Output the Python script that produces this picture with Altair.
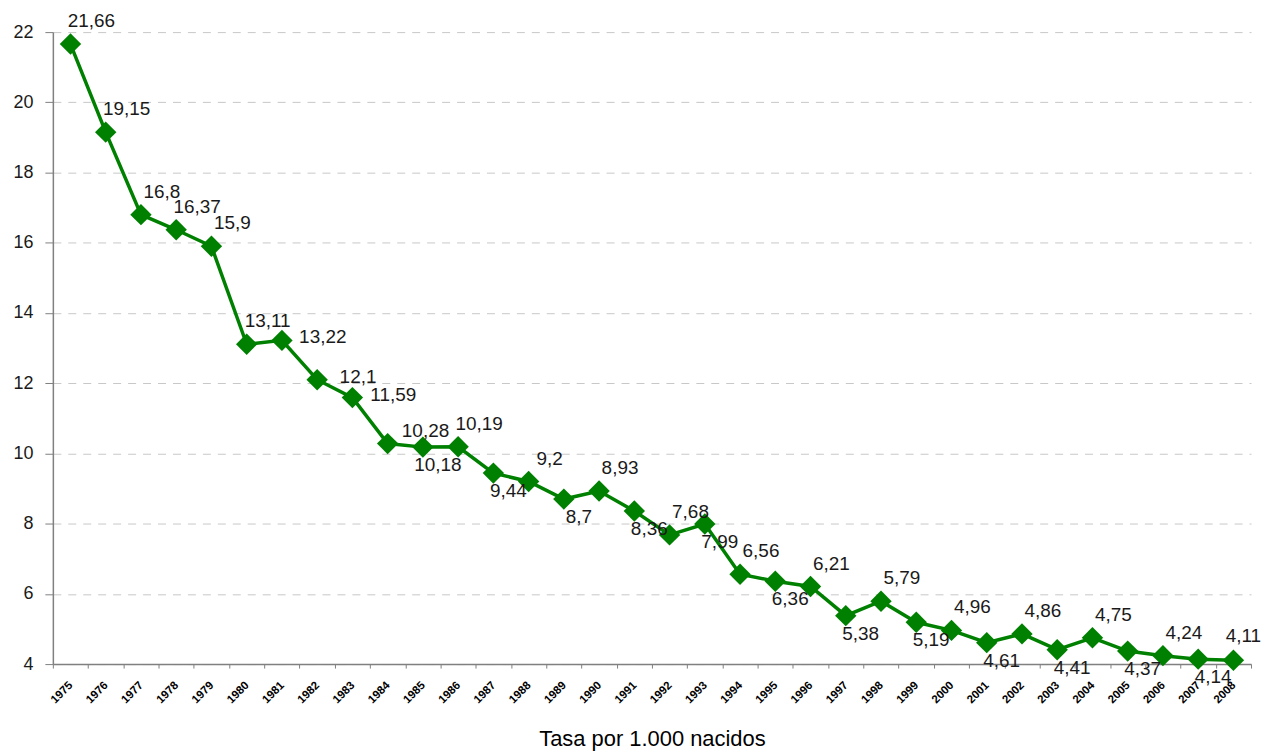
import altair as alt
import pandas as pd

years = [str(y) for y in range(1975, 2009)]
values = [21.66, 19.15, 16.8, 16.37, 15.9, 13.11, 13.22, 12.1, 11.59, 10.28,
          10.18, 10.19, 9.44, 9.2, 8.7, 8.93, 8.36, 7.68, 7.99, 6.56,
          6.36, 6.21, 5.38, 5.79, 5.19, 4.96, 4.61, 4.86, 4.41, 4.75,
          4.37, 4.24, 4.14, 4.11]
# label placement style: up / right / upright / down / upnear
label_side = ["up", "up", "up", "up", "up", "up", "right", "right", "right", "upright",
              "down", "up", "down", "up", "down", "up", "down", "up", "down", "up",
              "down", "up", "down", "up", "down", "up", "down", "up", "down", "up",
              "down", "up", "down", "upnear"]
x_title = "Tasa por 1.000 nacidos"

df = pd.DataFrame({
    "year": years,
    "value": values,
    "side": label_side,
    "label": [str(v).replace(".", ",") for v in values],
})

FONT = "Liberation Sans"
GREEN = "#008000"

x_enc = alt.X(
    "year:N",
    sort=years,
    scale=alt.Scale(type="band", paddingInner=0, paddingOuter=0),
    axis=alt.Axis(
        title=x_title,
        labelAngle=-45,
        labelFontSize=11.5,
        labelFontWeight="bold",
        labelColor="#000000",
        labelFont=FONT,
        labelPadding=11,
        labelOffset=-4,
        tickBand="extent",
        tickSize=4,
        tickColor="#808080",
        domainColor="#808080",
        domainWidth=1.5,
        grid=False,
        titleFont=FONT,
        titleFontSize=22,
        titleFontWeight="normal",
        titleColor="#000000",
        titlePadding=23,
    ),
)
y_enc = alt.Y(
    "value:Q",
    scale=alt.Scale(domain=[4, 22], nice=False, zero=False),
    axis=alt.Axis(
        title=None,
        values=list(range(4, 23, 2)),
        labelFont=FONT,
        labelFontSize=18,
        labelColor="#1a1a1a",
        labelPadding=12,
        tickSize=8,
        tickColor="#808080",
        domainColor="#808080",
        domainWidth=1.5,
        grid=True,
        gridColor="#c8c8c8",
        gridDash=[8, 7],
        gridWidth=1,
    ),
)

base = alt.Chart(df)

line = base.mark_line(color=GREEN, strokeWidth=3.5).encode(x=x_enc, y=y_enc)
points = base.mark_point(shape="diamond", filled=True, size=460, color=GREEN, opacity=1).encode(
    x=alt.X("year:N", sort=years), y="value:Q"
)

def labels(side, dx, dy):
    return base.transform_filter(alt.datum.side == side).mark_text(
        font=FONT, fontSize=19, color="#1a1a1a", dx=dx, dy=dy, align="center", baseline="middle"
    ).encode(x=alt.X("year:N", sort=years), y="value:Q", text="label:N")

chart = alt.layer(
    line,
    points,
    labels("up", 21, -23),
    labels("right", 41, -3),
    labels("upright", 38, -13),
    labels("down", 15, 18),
    labels("upnear", 10, -24),
).properties(
    width=1202,
    height=634,
    autosize=alt.AutoSizeParams(type="none"),
    padding={"left": 45, "top": 23, "right": 10, "bottom": 86},
).configure_view(stroke=None)

chart.save("out.html", embed_options={"renderer": "svg", "actions": False})
